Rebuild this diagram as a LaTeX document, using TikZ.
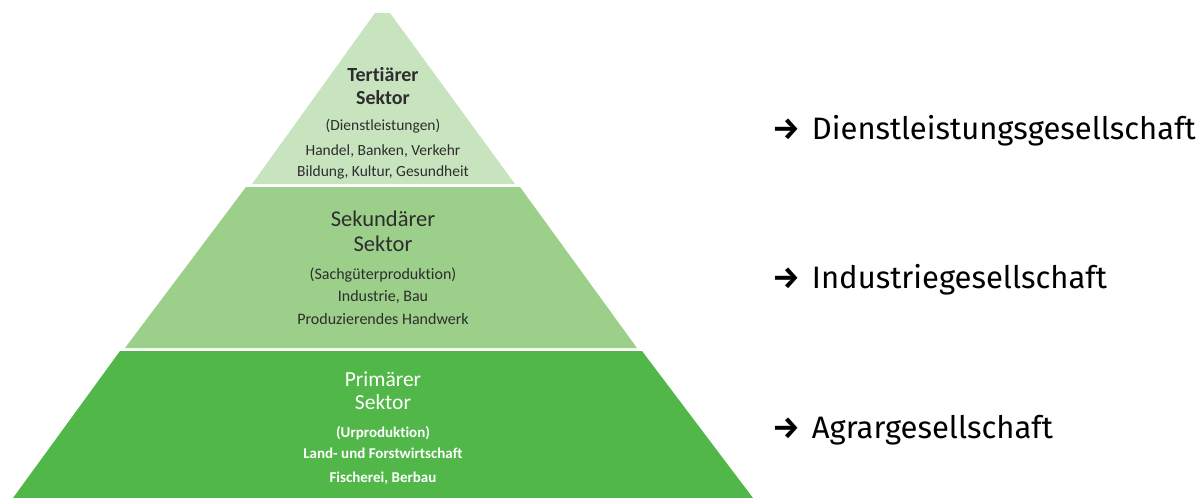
\documentclass[tikz,border=0pt]{standalone}
\usepackage{fontspec}
\setmainfont{Carlito}[Ligatures = NoCommon]
\newfontfamily\labelfont{Fira Sans}
\usepackage{tikz}
\usetikzlibrary{positioning}

\definecolor{tertgreen}{RGB}{200,228,190}
\definecolor{sekgreen}{RGB}{155,207,138}
\definecolor{primgreen}{RGB}{80,183,72}
\definecolor{sectortext}{RGB}{45,45,45}

\newcommand{\socarrow}{{\bfseries →}\hspace{12pt}}

\begin{document}
\begin{tikzpicture}[
    x = 1pt, y = -1pt, % pixel grid, y down
    inner sep = 0pt,
    outer sep = 0pt
    ]

    \tikzset{
    headline/.style = {anchor = base, font = \fontsize{20}{24}\selectfont\bfseries, text = sectortext},
    subline/.style = {anchor = base, font = \fontsize{15.5}{18}\selectfont, text = sectortext},
    society/.style = {anchor = base west, font = \labelfont\fontsize{31}{37}\selectfont, text = black}
    }

    \useasboundingbox (0,0) rectangle (1200,498);

    % pyramid layers
    \fill[tertgreen] (375,13) -- (390,13) -- (515,184) -- (252,184) -- cycle;
    \fill[sekgreen] (246,187) -- (520,187) -- (637,348) -- (125,348) -- cycle;
    \fill[primgreen] (120,351) -- (642,351) -- (753,498) -- (13,498) -- cycle;

    % tertiary sector
    \node[headline] (tert1) at (383,81) {Tertiärer};
    \node[headline] (tert2) at (383,104) {Sektor};
    \node[subline] (tert3) at (383,130) {(Dienstleistungen)};
    \node[subline] (tert4) at (383,155) {Handel, Banken, Verkehr};
    \node[subline] (tert5) at (383,176) {Bildung, Kultur, Gesundheit};

    % secondary sector
    \node[headline, font = \fontsize{22.5}{26}\selectfont] (sek1) at (383,226) {Sekundärer};
    \node[headline, font = \fontsize{22.5}{26}\selectfont] (sek2) at (383,251) {Sektor};
    \node[subline, font = \fontsize{16}{19}\selectfont] (sek3) at (383,279) {(Sachgüterproduktion)};
    \node[subline, font = \fontsize{16}{19}\selectfont] (sek4) at (383,301) {Industrie, Bau};
    \node[subline, font = \fontsize{16}{19}\selectfont] (sek5) at (383,324) {Produzierendes Handwerk};

    % primary sector
    \node[headline, font = \fontsize{21.5}{25}\selectfont, text = white] (prim1) at (383,386) {Primärer};
    \node[headline, font = \fontsize{21.5}{25}\selectfont, text = white] (prim2) at (383,409) {Sektor};
    \node[subline, font = \fontsize{15}{18}\selectfont\bfseries, text = white] (prim3) at (383,437) {(Urproduktion)};
    \node[subline, font = \fontsize{15}{18}\selectfont\bfseries, text = white] (prim4) at (383,458) {Land- und Forstwirtschaft};
    \node[subline, font = \fontsize{15}{18}\selectfont\bfseries, text = white] (prim5) at (383,482) {Fischerei, Berbau};

    % resulting societies
    \node[society] (dienst) at (772,139) {\socarrow Dienstleistungsgesellschaft};
    \node[society] (indu) at (772,288) {\socarrow Industriegesellschaft};
    \node[society] (agrar) at (772,438) {\socarrow Agrargesellschaft};
\end{tikzpicture}
\end{document}
